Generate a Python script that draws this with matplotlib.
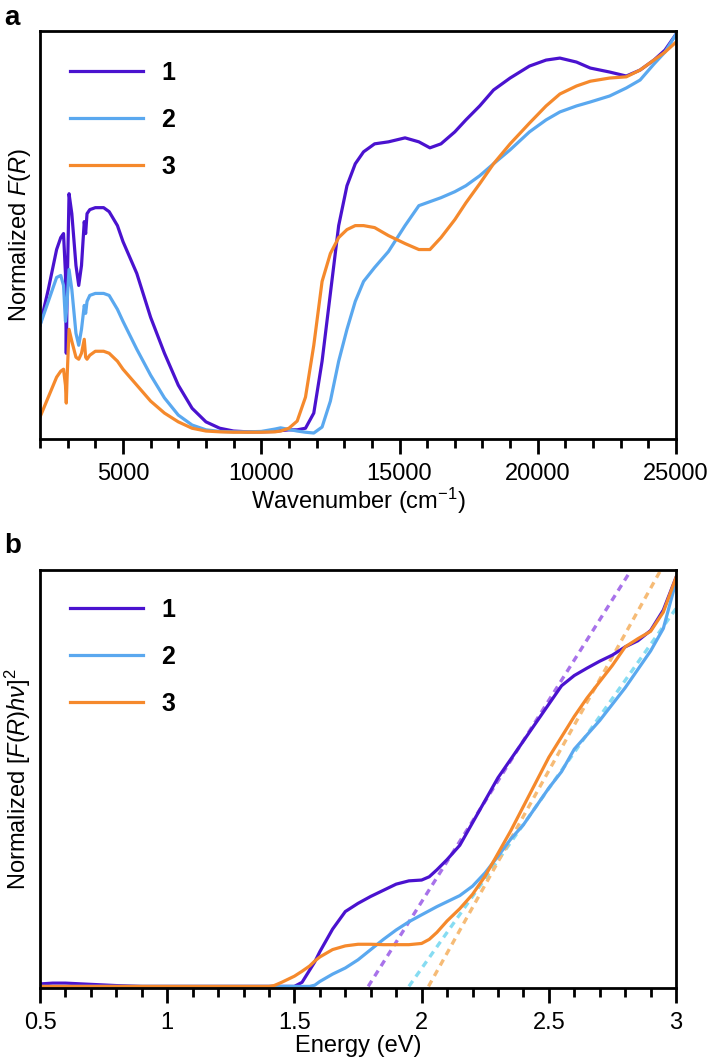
import numpy as np
import matplotlib
matplotlib.use("Agg")
import matplotlib.pyplot as plt
from matplotlib.ticker import MultipleLocator, FuncFormatter

plt.rcParams['font.family'] = ['Liberation Sans', 'DejaVu Sans']
plt.rcParams['mathtext.fontset'] = 'custom'
plt.rcParams['mathtext.rm'] = 'Liberation Sans'
plt.rcParams['mathtext.it'] = 'Liberation Sans:italic'

labels = ['1', '2', '3']
colors = ['#4a12cf', '#5aa8ef', '#f5892c']
fit_colors = ['#a872ea', '#86dcf2', '#f6bb76']

# panel a: Kubelka-Munk spectra vs wavenumber
wavenumber = [2000, 2300, 2600, 2750, 2850, 2920, 2950, 2980, 3050, 3150,
              3300, 3400, 3500, 3600, 3650, 3700, 3800, 4000, 4300, 4500,
              4800, 5000, 5500, 6000, 6500, 7000, 7500, 8000, 8500, 9000,
              9500, 10000, 10500, 10700, 11000, 11300, 11600, 11900, 12200, 12500,
              12800, 13100, 13400, 13700, 14100, 14600, 15200, 15700, 16100, 16500,
              17000, 17400, 17900, 18400, 19000, 19700, 20300, 20800, 21400, 21900,
              22600, 23200, 23700, 24200, 24600, 25000]
fr_1 = [0.27, 0.36, 0.46, 0.49, 0.50, 0.40, 0.20, 0.35, 0.60, 0.55,
        0.42, 0.37, 0.42, 0.53, 0.50, 0.55, 0.56, 0.565, 0.565, 0.555,
        0.52, 0.48, 0.40, 0.29, 0.20, 0.12, 0.062, 0.028, 0.012, 0.005,
        0.003, 0.003, 0.004, 0.006, 0.008, 0.008, 0.012, 0.05, 0.18, 0.35,
        0.52, 0.62, 0.675, 0.705, 0.725, 0.73, 0.74, 0.73, 0.715, 0.725,
        0.755, 0.785, 0.82, 0.86, 0.89, 0.92, 0.935, 0.94, 0.93, 0.915,
        0.905, 0.895, 0.91, 0.935, 0.96, 1.0]
fr_2 = [0.27, 0.33, 0.39, 0.395, 0.37, 0.28, 0.30, 0.33, 0.41, 0.36,
        0.25, 0.22, 0.26, 0.32, 0.30, 0.33, 0.345, 0.35, 0.35, 0.345,
        0.31, 0.28, 0.21, 0.145, 0.088, 0.045, 0.02, 0.008, 0.004, 0.003,
        0.003, 0.004, 0.01, 0.013, 0.009, 0.005, 0.002, 0.0, 0.015, 0.08,
        0.18, 0.26, 0.33, 0.38, 0.415, 0.455, 0.52, 0.57, 0.58, 0.59,
        0.605, 0.62, 0.645, 0.675, 0.71, 0.755, 0.785, 0.805, 0.82, 0.83,
        0.845, 0.865, 0.885, 0.925, 0.955, 1.0]
fr_3 = [0.04, 0.09, 0.14, 0.155, 0.16, 0.12, 0.075, 0.14, 0.26, 0.23,
        0.19, 0.185, 0.20, 0.235, 0.19, 0.185, 0.195, 0.205, 0.205, 0.20,
        0.18, 0.16, 0.12, 0.08, 0.05, 0.028, 0.012, 0.005, 0.003, 0.002,
        0.002, 0.002, 0.003, 0.005, 0.012, 0.03, 0.09, 0.22, 0.38, 0.45,
        0.49, 0.51, 0.52, 0.52, 0.515, 0.495, 0.475, 0.46, 0.46, 0.49,
        0.535, 0.577, 0.625, 0.675, 0.725, 0.777, 0.82, 0.85, 0.87, 0.882,
        0.89, 0.893, 0.91, 0.935, 0.955, 0.98]

# panel b: Tauc plot vs energy
energy = [0.5, 0.55, 0.6, 0.7, 0.8, 0.9, 1.0, 1.2, 1.4, 1.42,
          1.45, 1.5, 1.53, 1.56, 1.58, 1.6, 1.65, 1.7, 1.75, 1.8,
          1.85, 1.9, 1.95, 2.0, 2.03, 2.06, 2.1, 2.15, 2.2, 2.25,
          2.3, 2.35, 2.4, 2.45, 2.5, 2.55, 2.6, 2.65, 2.7, 2.75,
          2.8, 2.85, 2.9, 2.95, 3.0]
tauc_1 = [0.006, 0.008, 0.008, 0.005, 0.002, 0.0, 0.0, 0.0, 0.0, 0.0,
          0.0, 0.0, 0.01, 0.04, 0.06, 0.085, 0.14, 0.183, 0.203, 0.22,
          0.235, 0.25, 0.258, 0.26, 0.268, 0.285, 0.31, 0.345, 0.40, 0.455,
          0.51, 0.555, 0.60, 0.645, 0.69, 0.735, 0.76, 0.778, 0.795, 0.81,
          0.83, 0.845, 0.87, 0.92, 1.0]
tauc_2 = [0.0, 0.0, 0.0, 0.0, 0.0, 0.0, 0.0, 0.0, 0.0, 0.0,
          0.0, 0.0, 0.0, 0.0, 0.003, 0.012, 0.03, 0.045, 0.065, 0.09,
          0.115, 0.138, 0.158, 0.175, 0.185, 0.195, 0.207, 0.222, 0.245, 0.278,
          0.318, 0.36, 0.395, 0.44, 0.485, 0.525, 0.58, 0.615, 0.65, 0.69,
          0.73, 0.775, 0.82, 0.875, 0.99]
tauc_3 = [0.0, 0.0, 0.0, 0.0, 0.0, 0.0, 0.0, 0.0, 0.0, 0.002,
          0.01, 0.025, 0.037, 0.05, 0.062, 0.072, 0.09, 0.099, 0.103, 0.103,
          0.102, 0.102, 0.102, 0.105, 0.115, 0.132, 0.16, 0.19, 0.225, 0.27,
          0.325, 0.38, 0.44, 0.50, 0.56, 0.61, 0.66, 0.705, 0.745, 0.785,
          0.83, 0.85, 0.868, 0.915, 1.0]

# linear fits of the absorption edge: onset (eV) and slope
fit_onset = [1.79, 1.95, 2.027]
fit_slope = [0.985, 0.88, 1.115]

fig = plt.figure(figsize=(7.12, 10.64), dpi=100)
ax1 = fig.add_axes([0.0562, 0.5874, 0.8933, 0.3835])
ax2 = fig.add_axes([0.0562, 0.0714, 0.8933, 0.3929])


def style_axes(ax):
    for s in ax.spines.values():
        s.set_linewidth(2.0)
    ax.tick_params(axis='x', which='major', direction='out', length=11, width=2.0,
                   labelsize=17, pad=6)
    ax.tick_params(axis='x', which='minor', direction='out', length=6.5, width=2.0)
    ax.tick_params(axis='y', which='both', left=False, labelleft=False)


# panel a
for y, c, lab in zip([fr_1, fr_2, fr_3], colors, labels):
    ax1.plot(wavenumber, y, color=c, lw=2.3, label=lab)
ax1.set_xlim(2000, 25000)
ax1.set_ylim(-0.015, 1.008)
ax1.xaxis.set_major_locator(MultipleLocator(5000))
ax1.xaxis.set_minor_locator(MultipleLocator(1000))
ax1.set_xlabel(r'Wavenumber (cm$^{-1}$)', fontsize=17, labelpad=1)
ax1.set_ylabel(r'Normalized $\mathit{F}$($\mathit{R}$)', fontsize=17, labelpad=5)
style_axes(ax1)

# panel b
for onset, slope, c in zip(fit_onset, fit_slope, fit_colors):
    x_end = min(3.0, onset + 1.02 / slope)
    xs = np.array([onset, x_end])
    ax2.plot(xs, slope * (xs - onset), color=c, lw=2.4, ls=(0, (2, 1.6)))
for y, c, lab in zip([tauc_1, tauc_2, tauc_3], colors, labels):
    ax2.plot(energy, y, color=c, lw=2.3, label=lab)
ax2.set_xlim(0.5, 3.0)
ax2.set_ylim(-0.004, 1.018)
ax2.xaxis.set_major_locator(MultipleLocator(0.5))
ax2.xaxis.set_minor_locator(MultipleLocator(0.1))
ax2.xaxis.set_major_formatter(FuncFormatter(lambda v, p: f'{v:g}'))
ax2.set_xlabel('Energy (eV)', fontsize=17, labelpad=1)
ax2.set_ylabel(r'Normalized [$\mathit{F}$($\mathit{R}$)$\mathit{h\nu}$]$^2$',
               fontsize=17, labelpad=5)
style_axes(ax2)

for ax, top in ((ax1, 0.951), (ax2, 0.958)):
    handles, labs = ax.get_legend_handles_labels()
    ax.legend(handles[-3:], labs[-3:], loc='upper left', frameon=False,
              bbox_to_anchor=(0.0315, top), borderaxespad=0,
              prop={'weight': 'bold', 'size': 18}, handlelength=2.9,
              handletextpad=0.75, labelspacing=0.92)

fig.text(0.006, 0.995, 'a', fontsize=20, fontweight='bold', va='top')
fig.text(0.006, 0.499, 'b', fontsize=20, fontweight='bold', va='top')

fig.savefig('out.png', dpi=100)
